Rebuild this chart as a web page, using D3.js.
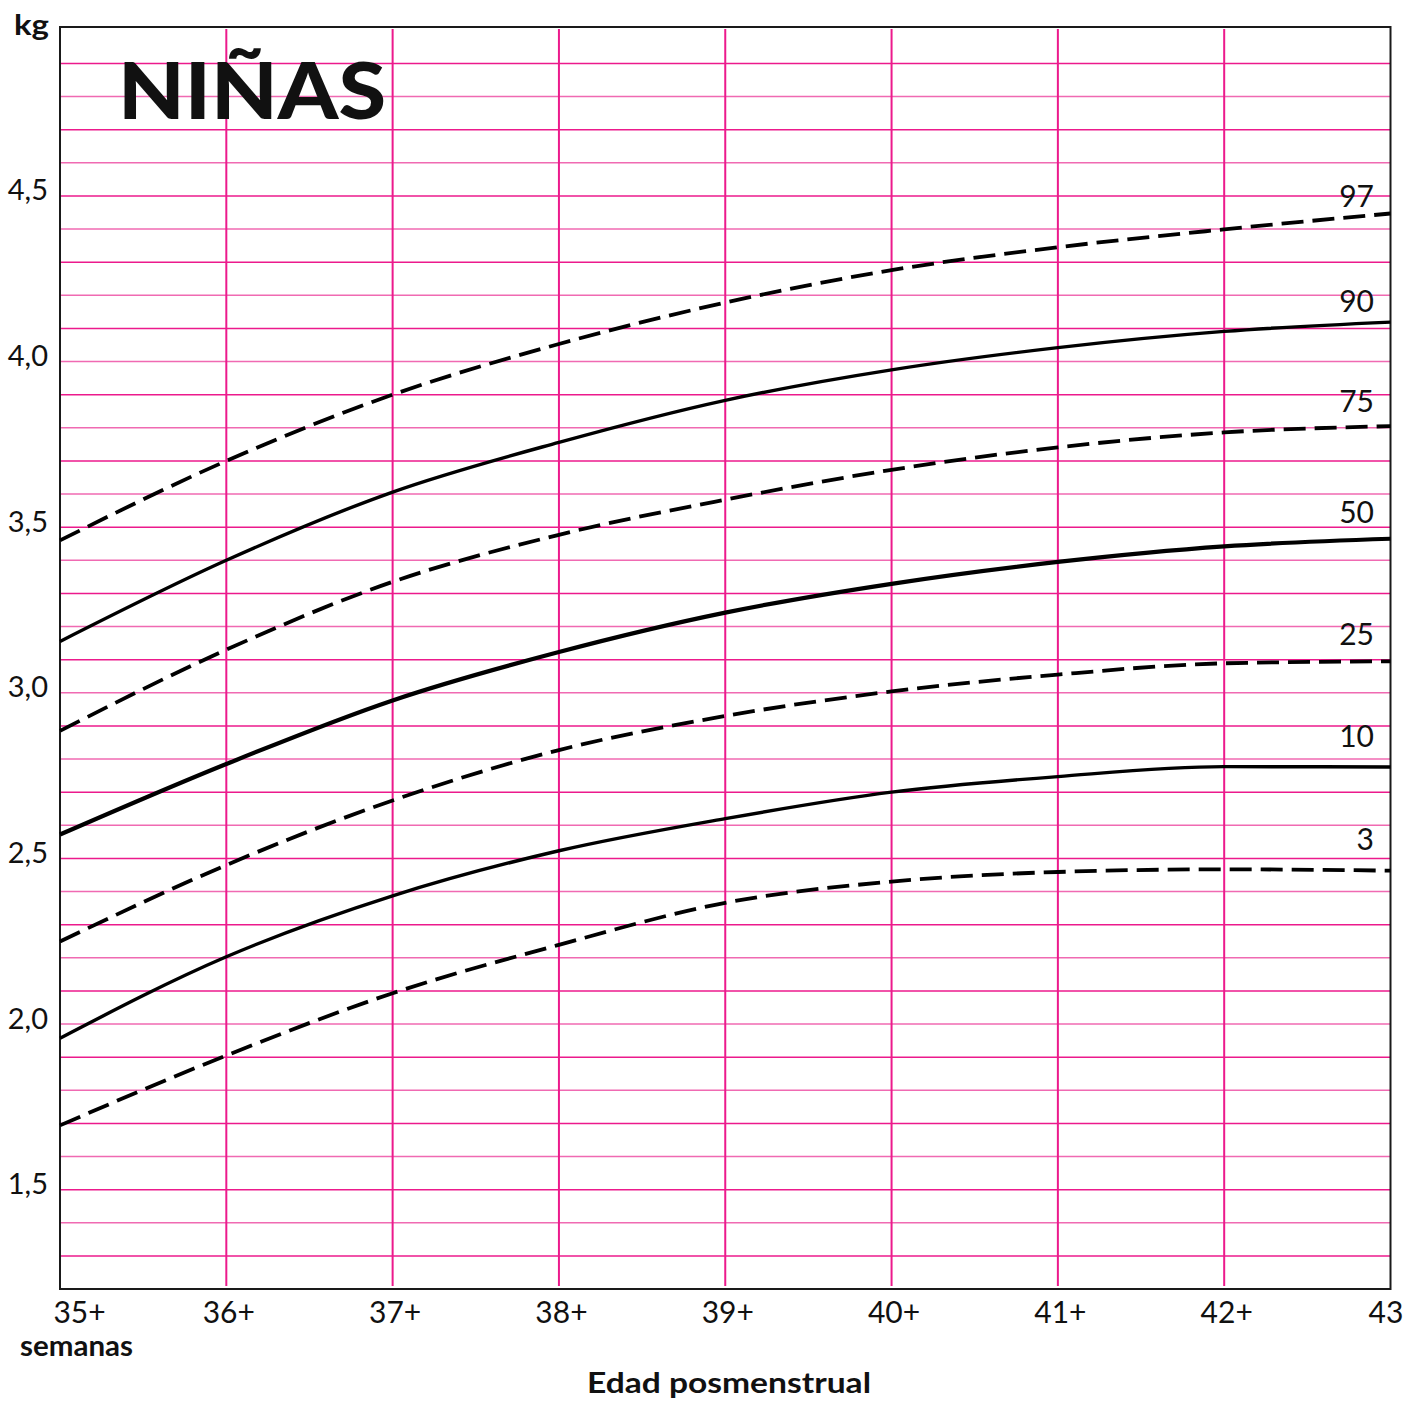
<!DOCTYPE html>
<html>
<head>
<meta charset="utf-8">
<script src="https://cdn.jsdelivr.net/npm/d3@7"></script>
<style>
  html, body { margin: 0; padding: 0; background: #fff; }
  svg { display: block; }
  text { font-family: Lato, "Open Sans", "DejaVu Sans", sans-serif; fill: #111; }
</style>
</head>
<body>
<svg id="chart" width="1404" height="1401"></svg>
<script>
// ---- data ----
const weeks = [35, 36, 37, 38, 39, 40, 41, 42, 43];
const xTickLabels = ["35+", "36+", "37+", "38+", "39+", "40+", "41+", "42+", "43"];
const yTickValues = [1.5, 2.0, 2.5, 3.0, 3.5, 4.0, 4.5];
const percentileNames = ["97", "90", "75", "50", "25", "10", "3"];
const p97 = [3.46, 3.70, 3.90, 4.053, 4.178, 4.276, 4.345, 4.399, 4.447];
const p90 = [3.155, 3.40, 3.606, 3.756, 3.883, 3.975, 4.042, 4.091, 4.119];
const p75 = [2.885, 3.13, 3.335, 3.477, 3.583, 3.673, 3.741, 3.786, 3.805];
const p50 = [2.572, 2.785, 2.977, 3.123, 3.242, 3.329, 3.395, 3.442, 3.465];
const p25 = [2.249, 2.48, 2.675, 2.827, 2.93, 3.004, 3.055, 3.089, 3.095];
const p10 = [1.957, 2.203, 2.387, 2.523, 2.62, 2.70, 2.747, 2.777, 2.776];
const p3  = [1.694, 1.905, 2.093, 2.239, 2.366, 2.43, 2.459, 2.467, 2.463];
const seriesValues = [p97, p90, p75, p50, p25, p10, p3];
const seriesDashed = [true, false, true, false, true, false, true];

(function () {
  const svg = d3.select("#chart");
  const L = 60, R = 1390.5, T = 27, B = 1289;
  const x = d3.scaleLinear().domain([35, 43]).range([L, R]);
  const y = d3.scaleLinear().domain([1.2, 5.01]).range([B, T]);

  svg.append("rect").attr("width", 1404).attr("height", 1401).attr("fill", "#fff");

  const pink = "#ec1a8c";
  const pinkLight = "#f06ab2";

  // horizontal grid (every 0.1 kg)
  const hVals = d3.range(13, 50).map(d => d / 10);
  svg.append("g").selectAll("line").data(hVals).join("line")
    .attr("x1", L).attr("x2", R)
    .attr("y1", d => y(d)).attr("y2", d => y(d))
    .attr("stroke", d => (Math.round(d * 10) % 2 === 0) ? pinkLight : pink)
    .attr("stroke-width", 1.5);

  // vertical grid
  svg.append("g").selectAll("line").data(weeks.slice(1, -1)).join("line")
    .attr("x1", d => x(d)).attr("x2", d => x(d))
    .attr("y1", T + 2).attr("y2", B - 3)
    .attr("stroke", pink).attr("stroke-width", 2);

  // frame
  svg.append("rect")
    .attr("x", L).attr("y", T)
    .attr("width", R - L).attr("height", B - T)
    .attr("fill", "none").attr("stroke", "#1a1a1a").attr("stroke-width", 2);

  // curves
  const line = d3.line().x((d, i) => x(weeks[i])).y(d => y(d)).curve(d3.curveMonotoneX);
  seriesValues.forEach((vals, k) => {
    svg.append("path")
      .attr("d", line(vals))
      .attr("fill", "none")
      .attr("stroke", "#000")
      .attr("stroke-width", seriesDashed[k] ? 3.8 : (k === 3 ? 4.2 : 3.4))
      .attr("stroke-dasharray", seriesDashed[k] ? "22,9" : null)
      .attr("stroke-linecap", "butt");
  });

  // percentile labels
  const labelDy = [6, 10, 14, 16, 16, 20, 21];
  seriesValues.forEach((vals, k) => {
    svg.append("text")
      .attr("x", 1374)
      .attr("y", y(vals[vals.length - 1]) - labelDy[k])
      .attr("text-anchor", "end")
      .attr("font-size", 30)
      .text(percentileNames[k]);
  });

  // y axis labels
  const fmt = v => d3.format(".1f")(v).replace(".", ",");
  const yAxis = d3.axisLeft(y).tickValues(yTickValues).tickFormat(fmt).tickSize(0).tickPadding(12);
  const gy = svg.append("g").attr("transform", `translate(${L},0)`).call(yAxis);
  gy.select(".domain").remove();
  gy.selectAll("text")
    .attr("font-size", 29)
    .attr("font-family", "Lato, 'Open Sans', sans-serif")
    .attr("fill", "#111")
    .attr("dy", null)
    .attr("y", 4)
    .attr("x", -12);

  // x axis labels
  const xAxis = d3.axisBottom(x).tickValues(weeks).tickFormat((d, i) => xTickLabels[i]).tickSize(0).tickPadding(0);
  const gx = svg.append("g").attr("transform", `translate(0,${B})`).call(xAxis);
  gx.select(".domain").remove();
  gx.selectAll("text")
    .attr("font-size", 30)
    .attr("font-family", "Lato, 'Open Sans', sans-serif")
    .attr("fill", "#111")
    .attr("dy", null)
    .attr("y", 34)
    .attr("dx", (d, i) => i === 0 ? 19 : (i === weeks.length - 1 ? -5 : 2));

  // titles
  svg.append("text").attr("x", 14).attr("y", 35)
    .attr("font-size", 28).attr("font-weight", 700)
    .attr("textLength", 35).attr("lengthAdjust", "spacingAndGlyphs")
    .text("kg");
  svg.append("text").attr("x", 118).attr("y", 119)
    .attr("font-size", 78).attr("font-weight", 900)
    .attr("textLength", 268).attr("lengthAdjust", "spacingAndGlyphs")
    .text("NIÑAS");
  svg.append("text").attr("x", 20).attr("y", 1356)
    .attr("font-size", 28).attr("font-weight", 700)
    .attr("textLength", 113).attr("lengthAdjust", "spacingAndGlyphs")
    .text("semanas");
  svg.append("text").attr("x", 587).attr("y", 1393)
    .attr("font-size", 29).attr("font-weight", 700)
    .attr("textLength", 284).attr("lengthAdjust", "spacingAndGlyphs")
    .text("Edad posmenstrual");
})();
</script>
</body>
</html>
